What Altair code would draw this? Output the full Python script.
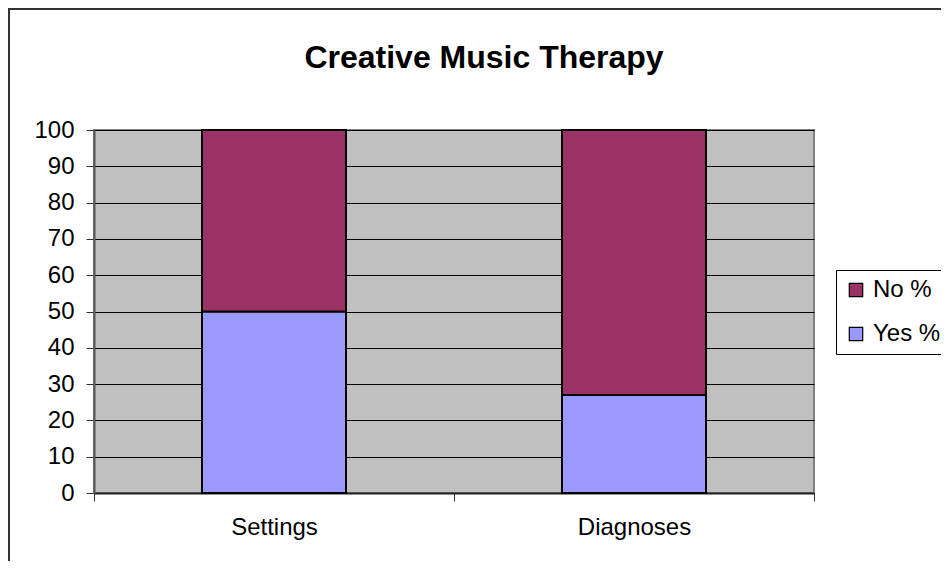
import altair as alt
import pandas as pd

title_text = "Creative Music Therapy"
categories = ["Settings", "Diagnoses"]
yes_pct = [50, 27]
no_pct = [50, 73]
series = ["No %", "Yes %"]
colors = ["#993366", "#9999FF"]

rows = []
for c, y, n in zip(categories, yes_pct, no_pct):
    rows.append({"cat": c, "series": "Yes %", "value": y, "ord": 0})
    rows.append({"cat": c, "series": "No %", "value": n, "ord": 1})
df = pd.DataFrame(rows)

FONT = "Liberation Sans"

bars = alt.Chart(df).mark_bar(
    width=alt.RelativeBandSize(0.4), stroke="black", strokeWidth=2
).encode(
    x=alt.X("cat:N", sort=categories, title=None,
            scale=alt.Scale(paddingInner=0, paddingOuter=0),
            axis=alt.Axis(labelAngle=0, tickBand="extent", labelFontSize=24,
                          labelFont=FONT, labelColor="black", tickSize=8,
                          tickColor="#333", domainColor="#222", domainWidth=2,
                          labelPadding=14, grid=False)),
    y=alt.Y("value:Q", stack="zero", title=None,
            scale=alt.Scale(domain=[0, 100], nice=False),
            axis=alt.Axis(values=list(range(0, 101, 10)), labelFontSize=24,
                          labelFont=FONT, labelColor="black", tickSize=8,
                          tickColor="#333", domainColor="#555", domainWidth=2,
                          labelPadding=12, grid=True, gridColor="black",
                          gridWidth=1, gridOpacity=1)),
    color=alt.Color("series:N", scale=alt.Scale(domain=series, range=colors),
                    legend=alt.Legend(title=None, orient="none", legendX=742,
                                      legendY=140, labelFontSize=24,
                                      labelFont=FONT, labelColor="black",
                                      symbolType="square", symbolSize=180,
                                      symbolStrokeColor="black",
                                      symbolStrokeWidth=1.2, symbolOpacity=1,
                                      strokeColor="black", padding=8,
                                      rowPadding=20, labelOffset=5)),
    order=alt.Order("ord:Q"),
)

title = alt.Chart(alt.Data(values=[{"t": title_text}])).mark_text(
    font=FONT, fontSize=32, fontWeight="bold", color="black",
    align="center", baseline="alphabetic"
).encode(
    text="t:N", x=alt.value(390), y=alt.value(-62)
)

border = alt.Chart(alt.Data(values=[{"a": 1}])).mark_rect(
    fillOpacity=0, stroke="#333", strokeWidth=2
).encode(
    x=alt.value(-85), y=alt.value(-121), x2=alt.value(1200), y2=alt.value(1200)
)

chart = alt.layer(bars, title, border).properties(
    width=720, height=363,
    background="white",
    autosize=alt.AutoSizeParams(type="none"),
    padding={"left": 86, "top": 122, "right": 127, "bottom": 68},
).configure_view(
    fill="#C0C0C0", stroke="#808080", strokeWidth=2
)

chart.save("out.html", embed_options={"renderer": "svg", "actions": False})
